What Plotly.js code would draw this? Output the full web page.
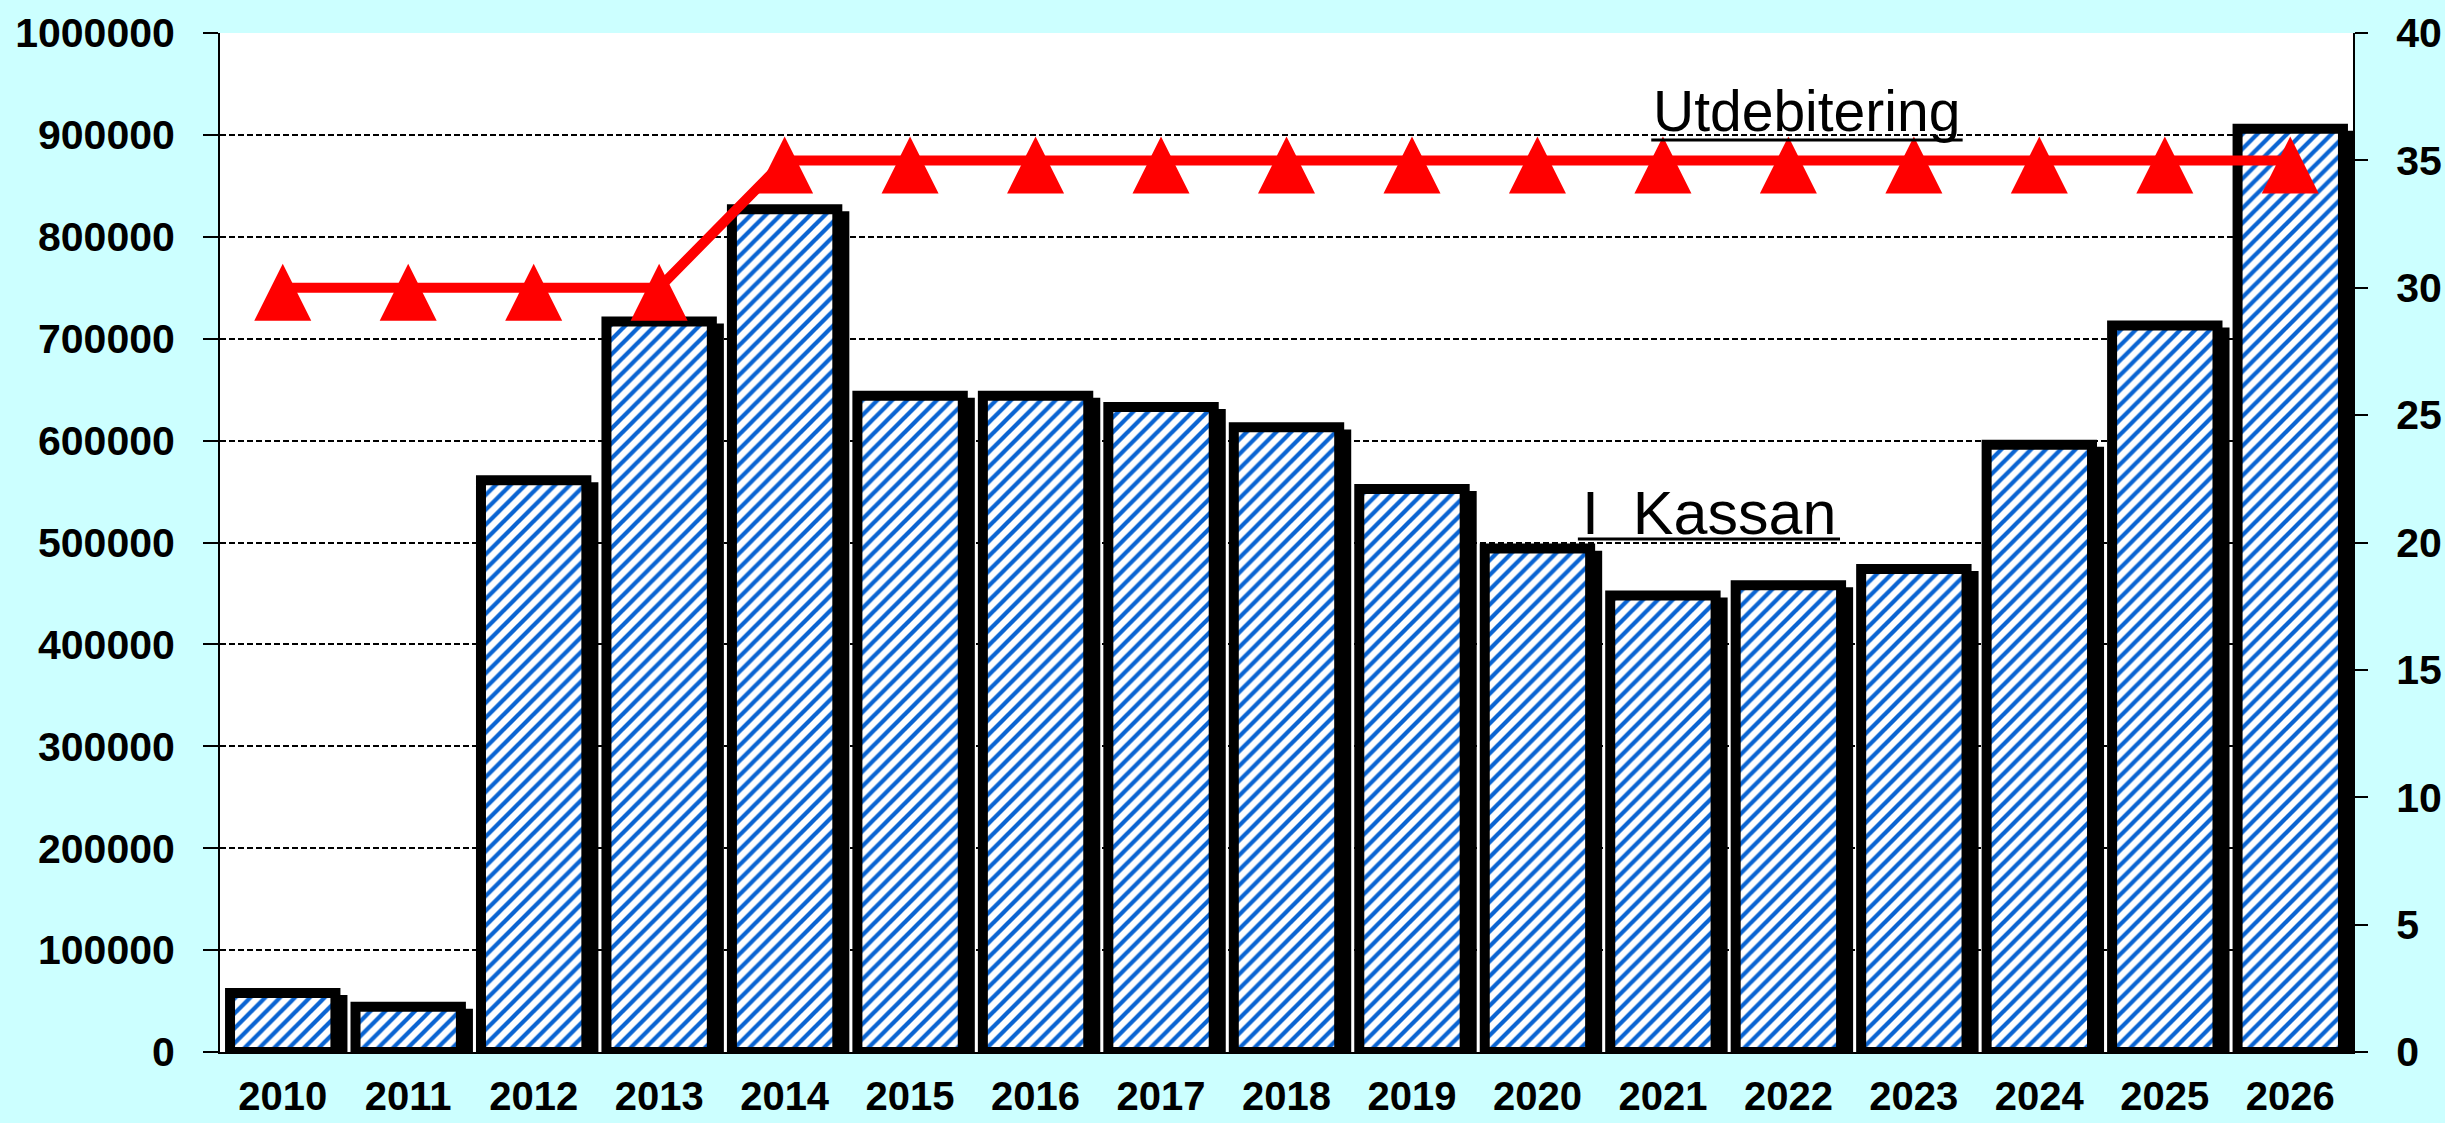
<!DOCTYPE html>
<html>
<head>
<meta charset="utf-8">
<script src="https://cdn.plot.ly/plotly-3.0.1.min.js"></script>
<style>
  html, body { margin: 0; padding: 0; background: #CCFFFF; }
  #chart { width: 2445px; height: 1123px; }
</style>
</head>
<body>
<div id="chart"></div>
<script>
// ---- data ----
const years = ["2010","2011","2012","2013","2014","2015","2016","2017","2018","2019","2020","2021","2022","2023","2024","2025","2026"];
const iKassan = [58000, 44500, 561000, 717000, 827000, 644000, 644000, 633000, 613000, 552500, 494000, 448000, 458000, 474000, 596000, 713000, 906000];
const utdebitering = [30, 30, 30, 30, 35, 35, 35, 35, 35, 35, 35, 35, 35, 35, 35, 35, 35];
const leftTicks = [0, 100000, 200000, 300000, 400000, 500000, 600000, 700000, 800000, 900000, 1000000];
const rightTicks = [0, 5, 10, 15, 20, 25, 30, 35, 40];

// ---- style ----
const FONT = "Liberation Sans, Arial, Helvetica, sans-serif";
const BAR_W = 0.84;
const SHADOW_X = 0.056;      // axis units (~7px)
const SHADOW_Y = 6900;       // value units (~7px)

const shadow = {
  type: "bar", x: years, y: iKassan.map(v => v - SHADOW_Y),
  width: BAR_W, offset: -BAR_W / 2 + SHADOW_X,
  marker: { color: "#000000", line: { color: "#000000", width: 10 } },
  xaxis: "x", yaxis: "y", hoverinfo: "skip", showlegend: false
};
const bars = {
  type: "bar", x: years, y: iKassan, name: "I  Kassan",
  width: BAR_W, offset: -BAR_W / 2,
  marker: {
    color: "#FFFFFF",
    line: { color: "#000000", width: 10 },
    pattern: { shape: "/", fgcolor: "#0A64D2", bgcolor: "#FFFFFF", size: 10.5, solidity: 0.4, fillmode: "replace" }
  },
  xaxis: "x", yaxis: "y", showlegend: false
};
const line = {
  type: "scatter", mode: "lines", x: years, y: utdebitering, name: "Utdebitering",
  line: { color: "#FF0000", width: 10 },
  xaxis: "x", yaxis: "y2", showlegend: false
};
const markers = {
  type: "scatter", mode: "markers", x: years, y: utdebitering,
  marker: { symbol: "arrow-up", size: 57, color: "#FF0000", line: { width: 0 } },
  xaxis: "x", yaxis: "y3", showlegend: false, hoverinfo: "skip"
};

const tickFont = { family: FONT, size: 41, color: "#000000", weight: "bold" };

const layout = {
  width: 2445, height: 1123,
  margin: { l: 220, r: 92, t: 33, b: 71, pad: 0 },
  paper_bgcolor: "#CCFFFF",
  plot_bgcolor: "#FFFFFF",
  barmode: "overlay",
  showlegend: false,
  xaxis: {
    type: "category", range: [-0.5, 16.5],
    showline: true, linecolor: "#000000", linewidth: 2, mirror: false,
    ticks: "", showgrid: false, zeroline: false,
    tickfont: { family: FONT, size: 40, color: "#000000", weight: "bold" }, ticklabelstandoff: 8
  },
  yaxis: {
    range: [0, 1000000], tickvals: leftTicks, ticktext: leftTicks.map(String),
    showgrid: true, gridcolor: "#000000", gridwidth: 2, griddash: "6px,3px",
    showline: true, linecolor: "#000000", linewidth: 2,
    ticks: "outside", ticklen: 15, tickwidth: 2, tickcolor: "#000000",
    zeroline: false, tickfont: tickFont, ticklabelstandoff: 20
  },
  yaxis2: {
    overlaying: "y", side: "right", range: [0, 40],
    tickvals: rightTicks, ticktext: rightTicks.map(String),
    showgrid: false, zeroline: false,
    showline: true, linecolor: "#000000", linewidth: 2,
    ticks: "outside", ticklen: 13, tickwidth: 2, tickcolor: "#000000",
    tickfont: tickFont, ticklabelstandoff: 20
  },
  yaxis3: {
    overlaying: "y", range: [-0.94, 39.06], visible: false, fixedrange: true
  },
  annotations: [
    { text: "Utdebitering", xref: "paper", yref: "y", x: 0.7438, y: 923500,
      xanchor: "center", yanchor: "middle", showarrow: false,
      font: { family: FONT, size: 57, color: "#000000" } },
    { text: "I\u00A0\u00A0Kassan", xref: "paper", yref: "y", x: 0.698, y: 529000,
      xanchor: "center", yanchor: "middle", showarrow: false,
      font: { family: FONT, size: 61, color: "#000000" } }
  ],
  shapes: [
    { type: "line", xref: "paper", yref: "y", x0: 0.671, x1: 0.817, y0: 895000, y1: 895000,
      line: { color: "#000000", width: 3 } },
    { type: "line", xref: "paper", yref: "y", x0: 0.6366, x1: 0.7595, y0: 503400, y1: 503400,
      line: { color: "#000000", width: 3 } }
  ]
};

Plotly.newPlot("chart", [shadow, bars, line, markers], layout, { displayModeBar: false, staticPlot: true });
</script>
</body>
</html>
